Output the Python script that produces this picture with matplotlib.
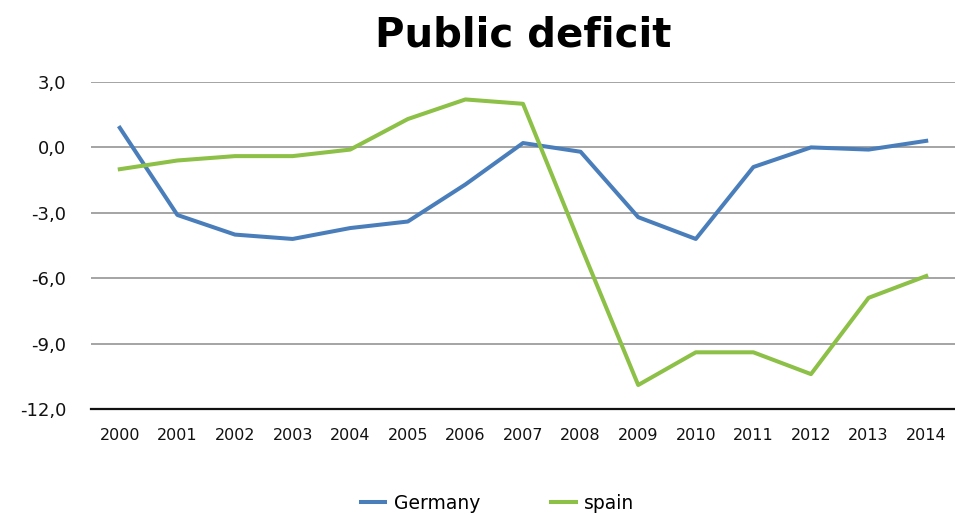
import matplotlib
matplotlib.use("Agg")
import matplotlib.pyplot as plt
from matplotlib.ticker import FuncFormatter

# Public deficit, % of GDP
years = list(range(2000, 2015))
germany = [0.9, -3.1, -4.0, -4.2, -3.7, -3.4, -1.7, 0.2, -0.2, -3.2, -4.2, -0.9, 0.0, -0.1, 0.3]
spain = [-1.0, -0.6, -0.4, -0.4, -0.1, 1.3, 2.2, 2.0, -4.5, -10.9, -9.4, -9.4, -10.4, -6.9, -5.9]
y_ticks = [3, 0, -3, -6, -9, -12]

BLUE = "#4a7ebb"
GREEN = "#8cc046"

fig = plt.figure(figsize=(9.55, 5.14), dpi=100)
ax = fig.add_axes([91 / 955, 1 - 409 / 514, (955 - 91) / 955, (409 - 82) / 514])

ax.plot(years, germany, color=BLUE, linewidth=2.9, label="Germany", zorder=3)
ax.plot(years, spain, color=GREEN, linewidth=2.9, label="spain", zorder=3)

ax.set_xlim(years[0] - 0.5, years[-1] + 0.5)
ax.set_ylim(-12, 3)
ax.set_xticks(years)
ax.set_yticks(y_ticks)
ax.yaxis.set_major_formatter(FuncFormatter(lambda v, _: f"{v:.1f}".replace(".", ",")))
ax.grid(axis="y", color="#8c8c8c", linewidth=1.1, zorder=1)

for side in ("top", "right", "left"):
    ax.spines[side].set_visible(False)
ax.spines["bottom"].set_color("#111111")
ax.spines["bottom"].set_linewidth(1.6)
ax.tick_params(axis="both", length=0, colors="#111111")
ax.tick_params(axis="x", labelsize=11.5, pad=14)
ax.tick_params(axis="y", labelsize=13, pad=18)

fig.text(0.548, 0.93, "Public deficit", ha="center", va="center",
         fontsize=29, fontweight="bold")

fig.legend(loc="center", bbox_to_anchor=(0.521, 0.021), ncol=2, frameon=False,
           fontsize=13.5, handlelength=1.3, columnspacing=3.8, handletextpad=0.45)

fig.savefig("out.png", dpi=100)
